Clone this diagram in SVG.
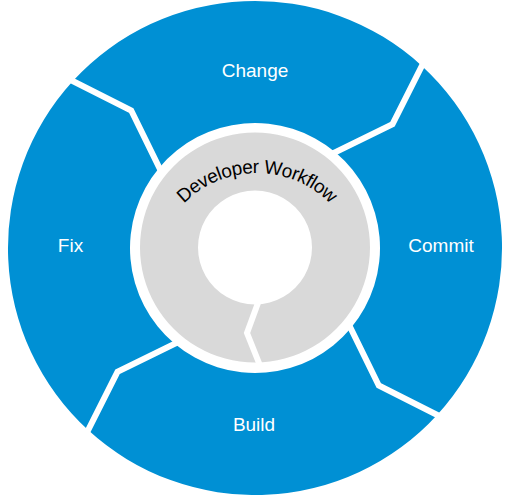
<svg xmlns="http://www.w3.org/2000/svg" xmlns:xlink="http://www.w3.org/1999/xlink" width="511" height="495" viewBox="0 0 511 495">
  <style>
    .seg { fill: #0090D4; }
    .lbl { font-family: "Liberation Sans", Arial, sans-serif; font-size: 19px; fill: #FFFFFF; text-anchor: middle; }
    .sep { fill: none; stroke: #FFFFFF; stroke-width: 6; stroke-linejoin: miter; stroke-linecap: square; }
    .title { font-family: "Liberation Sans", Arial, sans-serif; font-size: 19px; letter-spacing: -0.4px; fill: #000000; }
  </style>
  <defs>
    <path id="arcText" d="M 154 276 A 103 103 0 0 1 360 276"/>
  </defs>
  <rect width="511" height="495" fill="#FFFFFF"/>
  <g id="change">
    <path class="seg" d="M 72.9 81.1 A 247 247 0 0 1 421.9 65.9 L 392.5 124.2 L 335.35 152.24 A 125 125 0 0 0 159.24 167.65 L 131.2 110.5 Z"/>
    <text class="lbl" x="255" y="77">Change</text>
  </g>
  <g id="commit">
    <path class="seg" d="M 421.9 65.9 A 247 247 0 0 1 437.1 414.9 L 378.8 385.5 L 350.76 328.35 A 125 125 0 0 0 335.35 152.24 L 392.5 124.2 Z"/>
    <text class="lbl" x="441" y="252">Commit</text>
  </g>
  <g id="build">
    <path class="seg" d="M 437.1 414.9 A 247 247 0 0 1 88.1 430.1 L 117.5 371.8 L 174.65 343.76 A 125 125 0 0 0 350.76 328.35 L 378.8 385.5 Z"/>
    <text class="lbl" x="254" y="431">Build</text>
  </g>
  <g id="fix">
    <path class="seg" d="M 88.1 430.1 A 247 247 0 0 1 72.9 81.1 L 131.2 110.5 L 159.24 167.65 A 125 125 0 0 0 174.65 343.76 L 117.5 371.8 Z"/>
    <text class="lbl" x="70.5" y="252">Fix</text>
  </g>
  <g id="separators">
    <polyline class="sep" points="350.76,328.35 378.8,385.5 437.1,414.9"/>
    <polyline class="sep" points="174.65,343.76 117.5,371.8 88.1,430.1"/>
    <polyline class="sep" points="159.24,167.65 131.2,110.5 72.9,81.1"/>
    <polyline class="sep" points="335.35,152.24 392.5,124.2 421.9,65.9"/>
  </g>
  <g id="developer-workflow">
    <path d="M 255 132.5 A 115 115 0 1 1 254.99 132.5 Z M 255 190.5 A 57 57 0 1 0 255.01 190.5 Z" fill="#D9D9D9" fill-rule="evenodd"/>
    <polyline points="262,292 247,333 261,368" fill="none" stroke="#FFFFFF" stroke-width="6"/>
    <text class="title"><textPath xlink:href="#arcText" href="#arcText" startOffset="50%" text-anchor="middle">Developer Workflow</textPath></text>
  </g>
</svg>
